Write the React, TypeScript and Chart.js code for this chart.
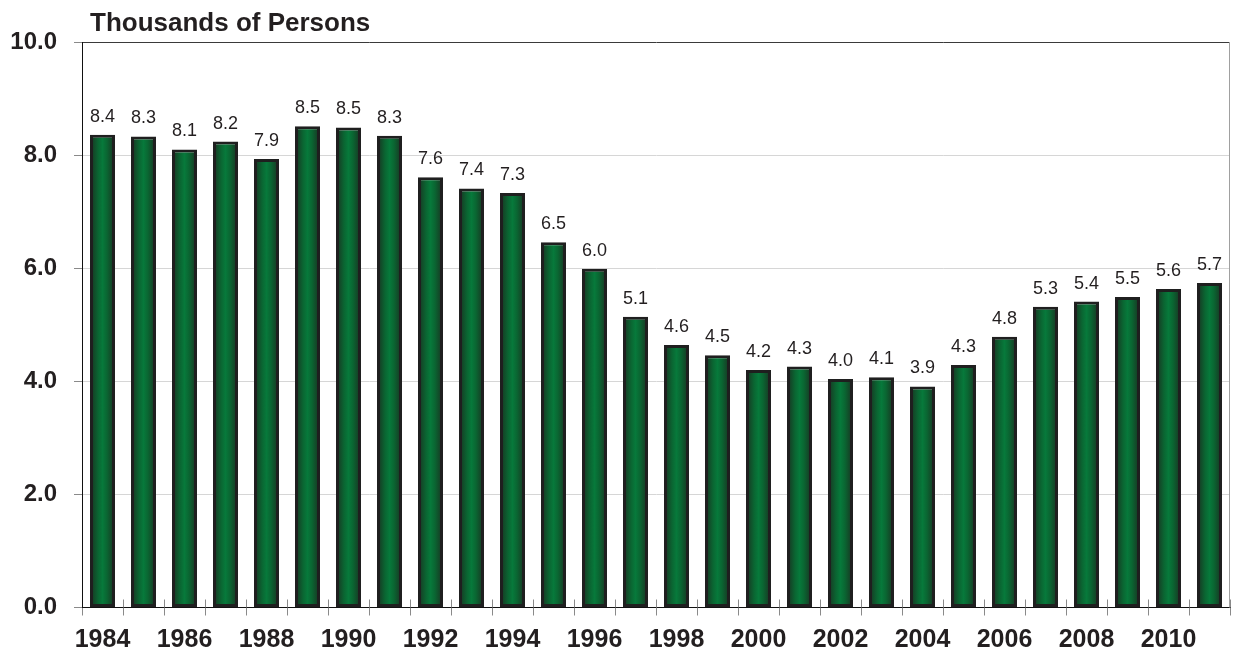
import { useEffect, useRef } from 'react';
import { Chart, registerables } from 'chart.js';

Chart.register(...registerables);

const years = [
  '1984', '1985', '1986', '1987', '1988', '1989', '1990', '1991', '1992', '1993',
  '1994', '1995', '1996', '1997', '1998', '1999', '2000', '2001', '2002', '2003',
  '2004', '2005', '2006', '2007', '2008', '2009', '2010', '2011',
];
const persons = [
  8.36, 8.33, 8.10, 8.24, 7.93, 8.51, 8.49, 8.34, 7.61, 7.41,
  7.33, 6.46, 5.99, 5.14, 4.64, 4.46, 4.20, 4.26, 4.04, 4.07,
  3.91, 4.29, 4.79, 5.32, 5.41, 5.49, 5.63, 5.74,
];
const yMin = 0;
const yMax = 10;
const yStep = 2;
const titleText = 'Thousands of Persons';

const FONT = "'Liberation Sans', Arial, Helvetica, sans-serif";
const TEXT = '#231f20';

const extrasPlugin = {
  id: 'extras',
  afterDraw(chart: any) {
    const { ctx, chartArea } = chart;
    ctx.save();
    // title
    ctx.fillStyle = TEXT;
    ctx.font = `bold 26px ${FONT}`;
    ctx.textAlign = 'left';
    ctx.textBaseline = 'alphabetic';
    ctx.fillText(titleText, chartArea.left + 8, chartArea.top - 11);
    // upward part of x ticks
    ctx.strokeStyle = '#8a8a8a';
    ctx.lineWidth = 1;
    const n = years.length;
    const cw = (chartArea.right - chartArea.left) / n;
    for (let i = 1; i <= n; i++) {
      const x = Math.round(chartArea.left + i * cw) + 0.5;
      ctx.beginPath();
      ctx.moveTo(x, chartArea.bottom - 8);
      ctx.lineTo(x, chartArea.bottom);
      ctx.stroke();
    }
    // right border
    ctx.strokeStyle = '#a0a0a0';
    ctx.beginPath();
    ctx.moveTo(Math.round(chartArea.right) - 0.5, chartArea.top);
    ctx.lineTo(Math.round(chartArea.right) - 0.5, chartArea.bottom);
    ctx.stroke();
    // data labels
    const meta = chart.getDatasetMeta(0);
    ctx.fillStyle = TEXT;
    ctx.font = `18px ${FONT}`;
    ctx.textAlign = 'center';
    ctx.textBaseline = 'alphabetic';
    meta.data.forEach((bar: any, i: number) => {
      ctx.fillText(persons[i].toFixed(1), bar.x, bar.y - 13);
    });
    ctx.restore();
  },
};

export default function App() {
  const ref = useRef<HTMLCanvasElement | null>(null);

  useEffect(() => {
    document.body.style.margin = '0';
    const canvas = ref.current;
    if (!canvas) return;
    const chart = new Chart(canvas, {
      type: 'bar',
      data: {
        labels: years,
        datasets: [
          {
            data: persons,
            backgroundColor: (c: any) => {
              const ch = c.chart;
              if (c.type !== 'data' || !ch.chartArea || !ch.scales.x) return '#0a7a3c';
              const cx = ch.scales.x.getPixelForValue(c.dataIndex);
              const w = 22;
              const g = ch.ctx.createLinearGradient(cx - w / 2, 0, cx + w / 2, 0);
              g.addColorStop(0, '#173a24');
              g.addColorStop(0.3, '#0a6632');
              g.addColorStop(0.5, '#07793b');
              g.addColorStop(0.7, '#0a6632');
              g.addColorStop(1, '#173a24');
              return g;
            },
            borderColor: '#1f1f1f',
            borderWidth: 3,
            borderSkipped: false,
            barPercentage: 0.61,
            categoryPercentage: 1.0,
          },
        ],
      },
      options: {
        responsive: false,
        animation: false,
        layout: { padding: { top: 42, right: 3, left: 0, bottom: 0 } },
        plugins: {
          legend: { display: false },
          title: { display: false },
          tooltip: { enabled: false },
        },
        scales: {
          x: {
            grid: {
              offset: true,
              drawOnChartArea: false,
              drawTicks: true,
              tickLength: 8,
              color: '#8a8a8a',
            },
            border: { color: '#111', width: 1 },
            ticks: {
              autoSkip: false,
              maxRotation: 0,
              minRotation: 0,
              padding: 10,
              color: TEXT,
              font: { family: FONT, size: 25, weight: 'bold' },
              callback: (_v: any, i: number) => (i % 2 === 0 ? years[i] : ''),
            },
            afterFit: (s: any) => {
              s.height = 45.5;
            },
          },
          y: {
            min: yMin,
            max: yMax,
            grid: {
              color: (c: any) => (c.tick && c.tick.value === yMax ? '#3a3a3a' : '#d6d6d6'),
              tickColor: '#8a8a8a',
              tickLength: 8,
            },
            border: { color: '#111', width: 1 },
            ticks: {
              stepSize: yStep,
              padding: 17,
              color: TEXT,
              font: { family: FONT, size: 24, weight: 'bold' },
              callback: (v: any) => Number(v).toFixed(1),
            },
            afterFit: (s: any) => {
              s.width = 82;
            },
          },
        },
      },
      plugins: [extrasPlugin],
    });
    return () => chart.destroy();
  }, []);

  return (
    <div style={{ width: 1233, height: 653 }}>
      <canvas ref={ref} width={1233} height={653} />
    </div>
  );
}
